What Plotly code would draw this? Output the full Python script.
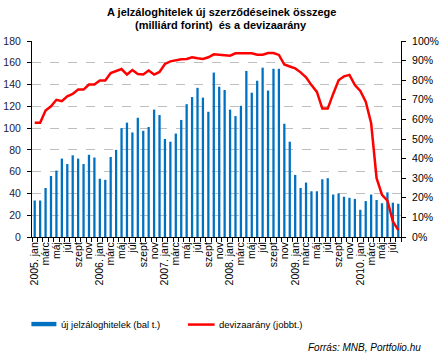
import plotly.graph_objects as go

months = ["jan", "febr", "márc", "ápr", "máj", "jún", "júl", "aug", "szept", "okt", "nov", "dec"]
years = [2005, 2006, 2007, 2008, 2009, 2010]

# monthly categories Jan 2005 - Aug 2010
categories = [f"{y}. {m}" for y in years for m in months][:68]
# shown tick labels (every second month)
tick_labels = []
for i, c in enumerate(categories):
    y, m = divmod(i, 12)
    if m % 2 == 1:
        tick_labels.append("")
    elif m == 0:
        tick_labels.append(f"{years[y]}. jan")
    else:
        tick_labels.append(months[m])

# új jelzáloghitelek (milliárd forint), bal tengely
new_loans = [
    33.5, 33.5, 45, 56, 61, 72, 67, 75, 72, 67, 75.5, 73,
    53.5, 52.5, 73.5, 80, 100, 105, 96, 109.5, 97.5, 101, 117, 112,
    90, 87.5, 95, 107.5, 122, 128.5, 137, 128, 115, 151, 138, 135,
    117, 111, 120.5, 152.5, 132.5, 143.5, 155.5, 134.5, 154.5, 154.5, 104, 87.5,
    57, 45, 50, 42, 42, 53, 54, 39, 40, 37, 36, 35,
    25, 33, 39, 34, 31, 41, 31.5, 30.5,
]

# devizaarány (%), jobb tengely
fx_share = [
    58.3, 58.3, 64.5, 66.7, 70, 69.3, 71.8, 73, 75.2, 75.2, 77.8, 77.8,
    79.8, 79.8, 83.7, 84.9, 85.7, 82.9, 85.2, 83.2, 82.9, 84.9, 82.9, 84.2,
    88.3, 89.6, 90.3, 90.7, 90.8, 91.7, 91.2, 90.8, 91.7, 93.2, 93, 92.9,
    92.5, 93.7, 93.7, 93.5, 93.7, 93, 93, 93.9, 93.9, 92.9, 88, 87,
    86, 84, 81.5, 77.5, 74, 65.5, 65.5, 73, 80, 82, 82.7, 77.5,
    74.5, 69, 58, 30, 21.5, 18.5, 8, 3.5,
]
fx_share_frac = [v / 100 for v in fx_share]

FONT = "Liberation Sans, Arial, sans-serif"

fig = go.Figure()
fig.add_trace(go.Bar(
    x=categories, y=new_loans, name="új jelzáloghitelek (bal t.)",
    marker=dict(color="#0070C0", line=dict(width=0)), yaxis="y",
    showlegend=False,
))
fig.add_trace(go.Scatter(
    x=categories, y=fx_share_frac, name="devizaarány (jobbt.)", mode="lines",
    line=dict(color="#FF0000", width=2.5), yaxis="y2", showlegend=False,
))

L, R, T, B = 32.3, 41.5, 41, 121.7
W, H = 443, 359
pw = W - L - R
ph = H - T - B

def px(xp):
    return (xp - L) / pw

def py(yp):
    return (H - B - yp) / ph

fig.update_layout(
    width=W, height=H,
    margin=dict(l=L, r=R, t=T, b=B, autoexpand=False),
    paper_bgcolor="white", plot_bgcolor="white",
    font=dict(family=FONT, size=10.5, color="#000000"),
    bargap=0.58,
    xaxis=dict(
        type="category", categoryorder="array", categoryarray=categories,
        tickmode="array", tickvals=categories, ticktext=tick_labels,
        tickson="boundaries", ticks="outside", ticklen=4, tickcolor="#000",
        tickangle=-90, tickfont=dict(size=10.5, color="#000"),
        showline=True, linecolor="#000", linewidth=1,
        showgrid=False, zeroline=False,
    ),
    yaxis=dict(
        range=[0, 180], dtick=20, tickmode="linear", tick0=0,
        ticks="outside", ticklen=4, tickcolor="#000",
        ticklabelstandoff=4,
        tickfont=dict(size=10.5, color="#1a1a3a"),
        showline=True, linecolor="#000", linewidth=1,
        showgrid=True, gridcolor="#BEBEBE", griddash="dash", gridwidth=1,
        zeroline=False,
    ),
    yaxis2=dict(
        range=[0, 1], dtick=0.1, tickmode="linear", tick0=0, tickformat=".0%",
        overlaying="y", side="right",
        ticks="outside", ticklen=4, tickcolor="#000",
        ticklabelstandoff=4,
        tickfont=dict(size=10.5, color="#000"),
        showline=True, linecolor="#000", linewidth=1,
        showgrid=False, zeroline=False,
    ),
)

# title (two lines)
fig.add_annotation(xref="paper", yref="paper", x=px(221.5), y=py(12),
                   text="<b>A jelzáloghitelek új szerződéseinek összege</b>",
                   showarrow=False, xanchor="center", yanchor="middle",
                   font=dict(size=11, color="#000"))
fig.add_annotation(xref="paper", yref="paper", x=px(221.5), y=py(24.5),
                   text="<b>(milliárd forint)  és a devizaarány</b>",
                   showarrow=False, xanchor="center", yanchor="middle",
                   font=dict(size=11, color="#000"))

# custom legend
fig.add_shape(type="rect", xref="paper", yref="paper",
              x0=px(31.7), x1=px(56.7), y0=py(326.7), y1=py(322.3),
              fillcolor="#0070C0", line=dict(width=0))
fig.add_annotation(xref="paper", yref="paper", x=px(59.5), y=py(325),
                   text="új jelzáloghitelek (bal t.)", showarrow=False,
                   xanchor="left", yanchor="middle",
                   font=dict(size=9.5, color="#000"))
fig.add_shape(type="line", xref="paper", yref="paper",
              x0=px(188.3), x1=px(215), y0=py(325), y1=py(325),
              line=dict(color="#FF0000", width=2.5))
fig.add_annotation(xref="paper", yref="paper", x=px(217.7), y=py(325),
                   text="devizaarány (jobbt.)", showarrow=False,
                   xanchor="left", yanchor="middle",
                   font=dict(size=9.5, color="#000"))
fig.add_annotation(xref="paper", yref="paper", x=px(423.5), y=py(348.3),
                   text="<i>Forrás: MNB, Portfolio.hu</i>", showarrow=False,
                   xanchor="right", yanchor="middle",
                   font=dict(size=10, color="#000"))

fig.write_html("out.html", config={"displayModeBar": False},
               post_script="document.body.style.margin='0';document.body.style.overflow='hidden';")
